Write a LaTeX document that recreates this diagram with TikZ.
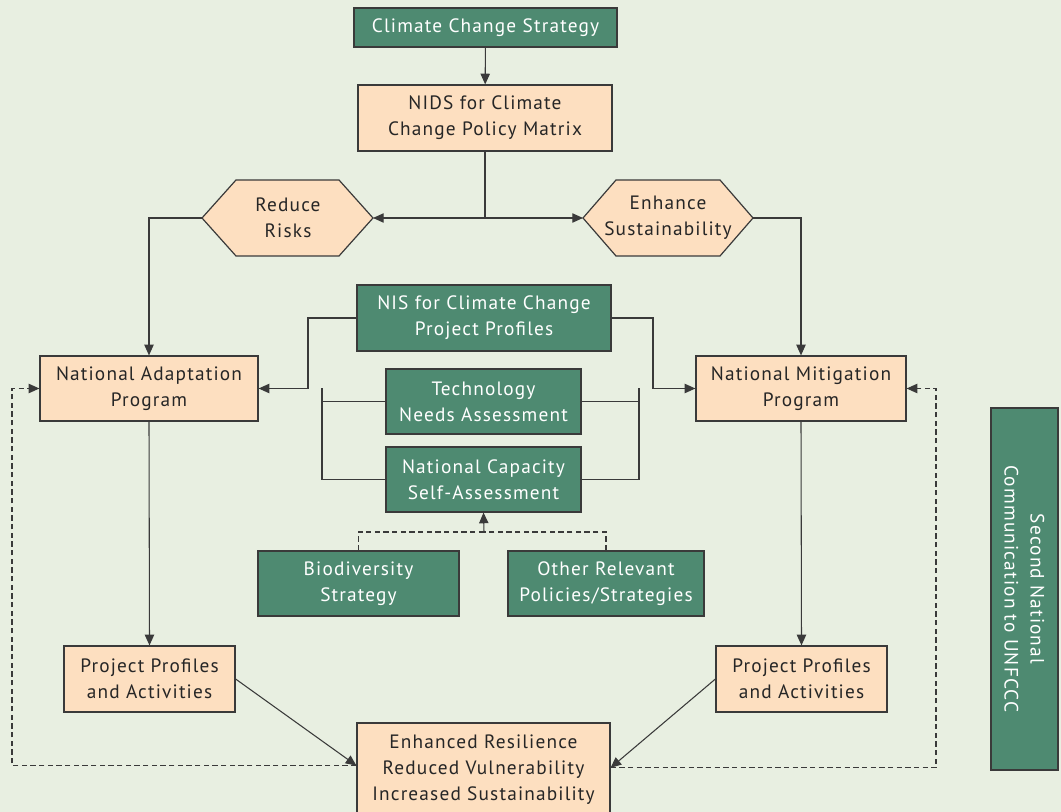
\documentclass[tikz,border=0pt]{standalone}
\usepackage{fontspec}
\setmainfont[LetterSpace=6]{PT Sans}
\usetikzlibrary{arrows.meta}
\definecolor{bgc}{HTML}{E8EFE1}
\definecolor{greenc}{HTML}{4E8A71}
\definecolor{peachc}{HTML}{FDDFC0}
\definecolor{linec}{HTML}{3A3A3A}
\def\u{0.75pt}
\begin{document}
\begin{tikzpicture}[x=0.75pt,y=-0.75pt,
  txt/.style={align=center,font=\fontsize{14.5}{19.5}\selectfont,inner sep=0pt},
  gbox/.style={txt,draw=linec,line width=0.9pt,fill=greenc,text=white},
  pbox/.style={txt,draw=linec,line width=0.9pt,fill=peachc,text=black!85},
  conn/.style={draw=linec,line width=0.8pt},
  arr/.style={conn,-{Triangle[length=8pt,width=7pt]}},
  dsh/.style={conn,dash pattern=on 4pt off 2.5pt},
  fb/.style={dsh,-{Triangle[length=8pt,width=7pt]}}]
\fill[bgc] (0,0) rectangle (1061,812);
\useasboundingbox (0,0) rectangle (1061,812);

% main column
\node[gbox,minimum width=263*\u,minimum height=39*\u] (ccs) at (485.5,27.5) {Climate Change Strategy};
\node[pbox,minimum width=254*\u,minimum height=66*\u] (nids) at (485,118) {NIDS for Climate\\Change Policy Matrix};

% hexagons
\draw[draw=linec,line width=0.9pt,fill=peachc] (202,218) coordinate (rrW) -- (236,180) -- (339,180) -- (373,218) coordinate (rrE) -- (339,256) -- (236,256) -- cycle;
\node[txt,text=black!85] (rr) at (288,218) {Reduce\\Risks};
\draw[draw=linec,line width=0.9pt,fill=peachc] (583,218) coordinate (esW) -- (616,180) -- (720,180) -- (753,218) coordinate (esE) -- (720,256) -- (616,256) -- cycle;
\node[txt,text=black!85] (es) at (668,218) {Enhance\\Sustainability};

% programmes
\node[pbox,minimum width=218*\u,minimum height=65*\u] (nap) at (149,388.5) {National Adaptation\\Program};
\node[pbox,minimum width=210*\u,minimum height=65*\u] (nmp) at (801,388.5) {National Mitigation\\Program};

% central assessments
\node[gbox,minimum width=254*\u,minimum height=66*\u] (nis) at (484,318) {NIS for Climate Change\\Project Profiles};
\node[gbox,minimum width=195*\u,minimum height=65*\u] (tna) at (483.5,401.5) {Technology\\Needs Assessment};
\node[gbox,minimum width=195*\u,minimum height=65*\u] (ncsa) at (483.5,479.5) {National Capacity\\Self-Assessment};
\node[gbox,minimum width=201*\u,minimum height=65*\u] (bio) at (358.5,583.5) {Biodiversity\\Strategy};
\node[gbox,minimum width=196*\u,minimum height=65*\u] (oth) at (606,583.5) {Other Relevant\\Policies/Strategies};

% project level and outcome
\node[pbox,minimum width=171*\u,minimum height=66*\u] (ppl) at (149.5,679) {Project Profiles\\and Activities};
\node[pbox,minimum width=171*\u,minimum height=66*\u] (ppr) at (801.5,679) {Project Profiles\\and Activities};
\node[pbox,minimum width=253*\u,minimum height=94*\u] (out) at (483.5,770) {Enhanced Resilience\\Reduced Vulnerability\\Increased Sustainability};

% side label
\node[gbox,minimum width=362*\u,minimum height=67*\u,rotate=-90] (side) at (1024.5,589) {Second National\\Communication to UNFCCC};

% routing points
\coordinate (split) at (485,218);
\coordinate (lb) at (308,388.5);
\coordinate (lb2) at (322,388.5);
\coordinate (rb) at (653,388.5);
\coordinate (rb2) at (639,388.5);
\coordinate (db) at (484,532);
\coordinate (fbl) at (12,560);
\coordinate (fbr) at (936,560);

% connectors
\draw[arr] (ccs) -- (nids);
\draw[conn] (nids.south) -- (split);
\draw[arr] (split) -- (rrE);
\draw[arr] (split) -- (esW);
\draw[arr] (rrW) -| (nap.north);
\draw[arr] (esE) -| (nmp.north);

\draw[arr] (nis.west) -| (lb) -- (nap.east);
\draw[conn] (tna.west) -| (lb2);
\draw[conn] (ncsa.west) -| (lb2);
\draw[arr] (nis.east) -| (rb) -- (nmp.west);
\draw[conn] (tna.east) -| (rb2);
\draw[conn] (ncsa.east) -| (rb2);

\draw[dsh] (bio.north) |- (db);
\draw[dsh] (oth.north) |- (db);
\draw[arr] (db) -- (ncsa.south);

\draw[arr] (nap.south) -- (ppl.north);
\draw[arr] (nmp.south) -- (ppr.north);
\draw[arr] (ppl.east) -- (out.178.6);
\draw[arr] (ppr.west) -- (out.1.4);

\draw[fb] (out.178.6) -| (fbl) |- (nap.west);
\draw[fb] (out.1.4) -| (fbr) |- (nmp.east);
\end{tikzpicture}
\end{document}
